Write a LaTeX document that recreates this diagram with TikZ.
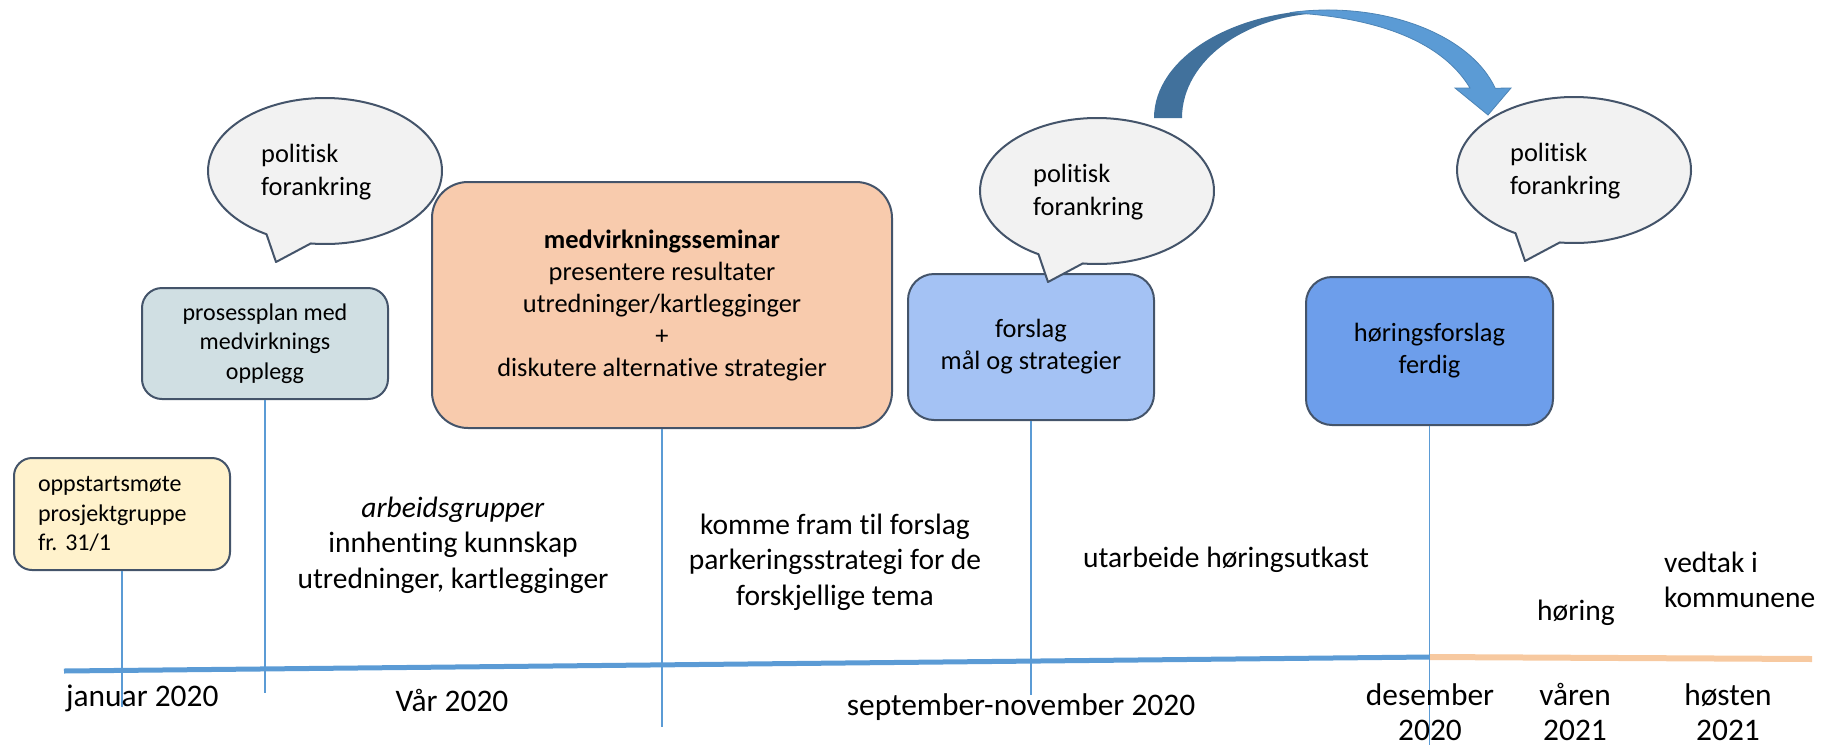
\documentclass[tikz,border=0pt]{standalone}
\usepackage{fontspec}
\setmainfont{Carlito}[Ligatures=NoCommon]
\frenchspacing
\definecolor{edgegray}{HTML}{44546A}
\definecolor{oppfill}{HTML}{FFF2CC}
\definecolor{prosfill}{HTML}{D0DFE3}
\definecolor{medfill}{HTML}{F8CBAD}
\definecolor{forslagfill}{HTML}{A4C2F4}
\definecolor{hforslagfill}{HTML}{6D9EEB}
\definecolor{talkfill}{HTML}{F2F2F2}
\definecolor{lineblue}{HTML}{5B9BD5}
\definecolor{lineorange}{HTML}{F7C9A0}
\definecolor{arrowdark}{HTML}{41719C}
\definecolor{arrowlight}{HTML}{5B9BD5}
\begin{document}
\begin{tikzpicture}[x=1pt, y=-1pt,
    card/.style={draw=edgegray, line width=2pt, align=center, inner sep=0pt, font=\fontsize{24}{29.3}\selectfont},
    bigcard/.style={card, font=\fontsize{26.4}{32}\selectfont},
    talk/.style={fill=talkfill, draw=edgegray, line width=2pt, line join=round},
    talktext/.style={anchor=west, align=left, inner sep=0pt, font=\fontsize{26.4}{32.5}\selectfont},
    tick/.style={draw=lineblue, line width=1.5pt},
    phase/.style={align=center, inner sep=0pt, font=\fontsize{29.5}{35.5}\selectfont},
    datelabel/.style={align=center, inner sep=0pt, font=\fontsize{31.4}{35}\selectfont}]
    \useasboundingbox (0,0) rectangle (1840,748);

    % Draw timeline
    \coordinate (tlStart) at (64,671);
    \coordinate (tlTurn) at (1429.5,657);
    \coordinate (tlEnd) at (1812,659);
    \draw[draw=lineorange, line width=6pt] (tlTurn) -- (tlEnd);
    \draw[draw=lineblue, line width=5pt] (tlStart) -- (tlTurn);

    % Draw milestone boxes
    \node[card, fill=oppfill, rounded corners=18pt, minimum width=216, minimum height=112, text width=168, align=left] (oppstart) at (122,514) {oppstartsmøte\\prosjektgruppe\\fr.\ 31/1};
    \node[card, fill=prosfill, rounded corners=20pt, minimum width=246, minimum height=111] (prosess) at (265,343.5) {prosessplan med\\medvirknings\\opplegg};
    \node[bigcard, fill=medfill, rounded corners=36pt, minimum width=460, minimum height=246] (seminar) at (662,305) {\textbf{medvirkningsseminar}\\presentere resultater\\utredninger/kartlegginger\\+\\diskutere alternative strategier};
    \node[bigcard, fill=forslagfill, rounded corners=26pt, minimum width=246, minimum height=146] (forslag) at (1031,347) {forslag\\mål og strategier};
    \node[bigcard, fill=hforslagfill, rounded corners=26pt, minimum width=247, minimum height=148] (hforslag) at (1429.5,351) {høringsforslag\\ferdig};

    % Draw ticks down to the timeline
    \foreach \nm/\yend in {oppstart/707, prosess/693, seminar/727, forslag/695, hforslag/745} {
        \coordinate (\nm-foot) at (\nm.south |- 0,\yend);
        \draw[tick] (\nm.south) -- (\nm-foot);
    }

    % Draw speech bubbles
    \foreach \cx/\cy/\nm in {325/171/talkA, 1097/191/talkB, 1574/170/talkC} {
        \draw[talk] ([shift={(97:117 and 73)}]\cx,\cy) arc[start angle=97, end angle=-240, x radius=117, y radius=73] -- (\cx-49,\cy+91) -- cycle;
        \node[talktext] (\nm) at (\cx-64,\cy+1) {politisk\\forankring};
    }

    % Draw curved arrow
    \fill[arrowdark] (1154,118) arc[start angle=180, end angle=270, x radius=174, y radius=108] -- (1328,13) arc[start angle=270, end angle=180, x radius=146, y radius=105] -- cycle;
    \filldraw[fill=arrowlight, draw=arrowlight!85!black, line width=0.8pt] (1290,12.6) arc[start angle=257.4, end angle=344, x radius=174, y radius=108] -- (1511,88) -- (1488,115) -- (1455,88) -- (1470,88) .. controls (1440,38) and (1370,17) .. (1290,12.6) -- cycle;

    % Phase texts
    \node[phase] (arbeid) at (453,545) {\textit{arbeidsgrupper}\\innhenting kunnskap\\utredninger, kartlegginger};
    \node[phase] (fram) at (835,562) {komme fram til forslag\\parkeringsstrategi for de\\forskjellige tema};
    \node[phase] (utarbeide) at (1226,560) {utarbeide høringsutkast};
    \node[phase] (horing) at (1576,613) {høring};
    \node[phase, anchor=west, align=left] (vedtak) at (1664,580) {vedtak i\\kommunene};

    % Dates under the timeline
    \node[datelabel, anchor=west] (jan) at (66,698) {januar 2020};
    \node[datelabel] (vaar) at (452,700) {Vår 2020};
    \node[datelabel] (sepnov) at (1021,707) {september-november 2020};
    \node[datelabel] (des) at (1430,712) {desember\\2020};
    \node[datelabel] (vaaren) at (1575,712) {våren\\2021};
    \node[datelabel] (hosten) at (1728,712) {høsten\\2021};
\end{tikzpicture}
\end{document}
